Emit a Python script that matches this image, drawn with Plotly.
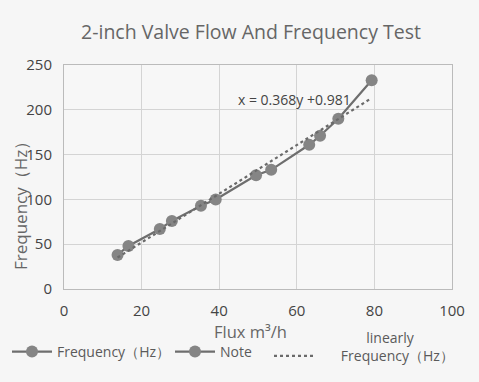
import numpy as np
import plotly.graph_objects as go

flux = [13.8, 16.6, 24.7, 27.8, 35.3, 39.1, 49.5, 53.4, 63.2, 66.0, 70.7, 79.3]
freq = [38, 48, 67, 76, 93, 100, 127, 133, 161, 171, 190, 233]
x_ticks = [0, 20, 40, 60, 80, 100]
y_ticks = [0, 50, 100, 150, 200, 250]
title = "2-inch Valve Flow And Frequency Test"
equation = "x = 0.368y +0.981"
x_title = "Flux m³/h"
y_title = "Frequency（Hz）"

slope, intercept = np.polyfit(flux, freq, 1)
trend_x = [min(flux), max(flux)]
trend_y = [slope * v + intercept for v in trend_x]

W, H = 479, 382
gray_line = "#6e6e6e"
gray_marker = "#858585"
text_gray = "#5a5a5a"
sp = "&nbsp;"

fig = go.Figure()
fig.add_trace(go.Scatter(
    x=flux, y=freq, mode="lines+markers", name="Frequency（Hz）", legend="legend",
    line=dict(color=gray_line, width=2.2),
    marker=dict(color=gray_marker, size=12),
))
fig.add_trace(go.Scatter(
    x=[None], y=[None], mode="lines+markers", name="Note", legend="legend2",
    line=dict(color=gray_line, width=2.2),
    marker=dict(color=gray_marker, size=12),
))
fig.add_trace(go.Scatter(
    x=trend_x, y=trend_y, mode="lines", legend="legend3",
    name=sp * 13 + "linearly<br>" + sp * 6 + "Frequency（Hz）",
    line=dict(color="#6a6a6a", width=2.2, dash="dot"),
))

fig.add_annotation(x=59.5, y=211, text=equation, showarrow=False,
                   font=dict(size=14, color="#444444", family="Open Sans"))
fig.add_annotation(xref="paper", yref="paper", x=(250 - 64) / 388, y=(289 - 331) / 224,
                   text=x_title, showarrow=False, xanchor="center", yanchor="middle",
                   font=dict(size=16.5, color="#666666", family="Open Sans"))
fig.add_annotation(xref="paper", yref="paper", x=(20 - 64) / 388, y=(289 - 202) / 224,
                   text=y_title, showarrow=False, textangle=-90, xanchor="center", yanchor="middle",
                   font=dict(size=17, color="#666666", family="Open Sans"))

def leg(px, py, valign="middle"):
    return dict(orientation="h", xref="container", yref="container",
                x=px / W, xanchor="left", y=1 - py / H, yanchor="middle",
                font=dict(size=14, color=text_gray, family="Open Sans"),
                bgcolor="rgba(0,0,0,0)", itemwidth=40, valign=valign)

fig.update_layout(
    width=W, height=H,
    margin=dict(l=64, r=27, t=65, b=93),
    paper_bgcolor="#f6f6f6", plot_bgcolor="#f7f7f7",
    font=dict(family="Open Sans", color=text_gray),
    title=dict(text=title, x=251 / W, xanchor="center", y=1 - 32 / H, yanchor="middle",
               font=dict(size=19.5, color="#666666", family="Open Sans")),
    showlegend=True,
    legend=leg(7, 352),
    legend2=leg(170, 352),
    legend3=leg(269, 347, "bottom"),
    xaxis=dict(range=[0, 100], tickvals=x_ticks, showgrid=True, gridcolor="#d4d4d4",
               gridwidth=1, zeroline=False, showline=True, linecolor="#bbbbbb",
               mirror=True, tickfont=dict(size=15, color="#444444"), automargin=False,
               ticklabelstandoff=8),
    yaxis=dict(range=[0, 250], tickvals=y_ticks, showgrid=True, gridcolor="#d4d4d4",
               gridwidth=1, zeroline=False, showline=True, linecolor="#bbbbbb",
               mirror=True, tickfont=dict(size=15, color="#444444"), automargin=False,
               ticklabelstandoff=8),
)

fig.write_html("out.html", config={"displayModeBar": False},
               post_script="document.body.style.margin='0';")
